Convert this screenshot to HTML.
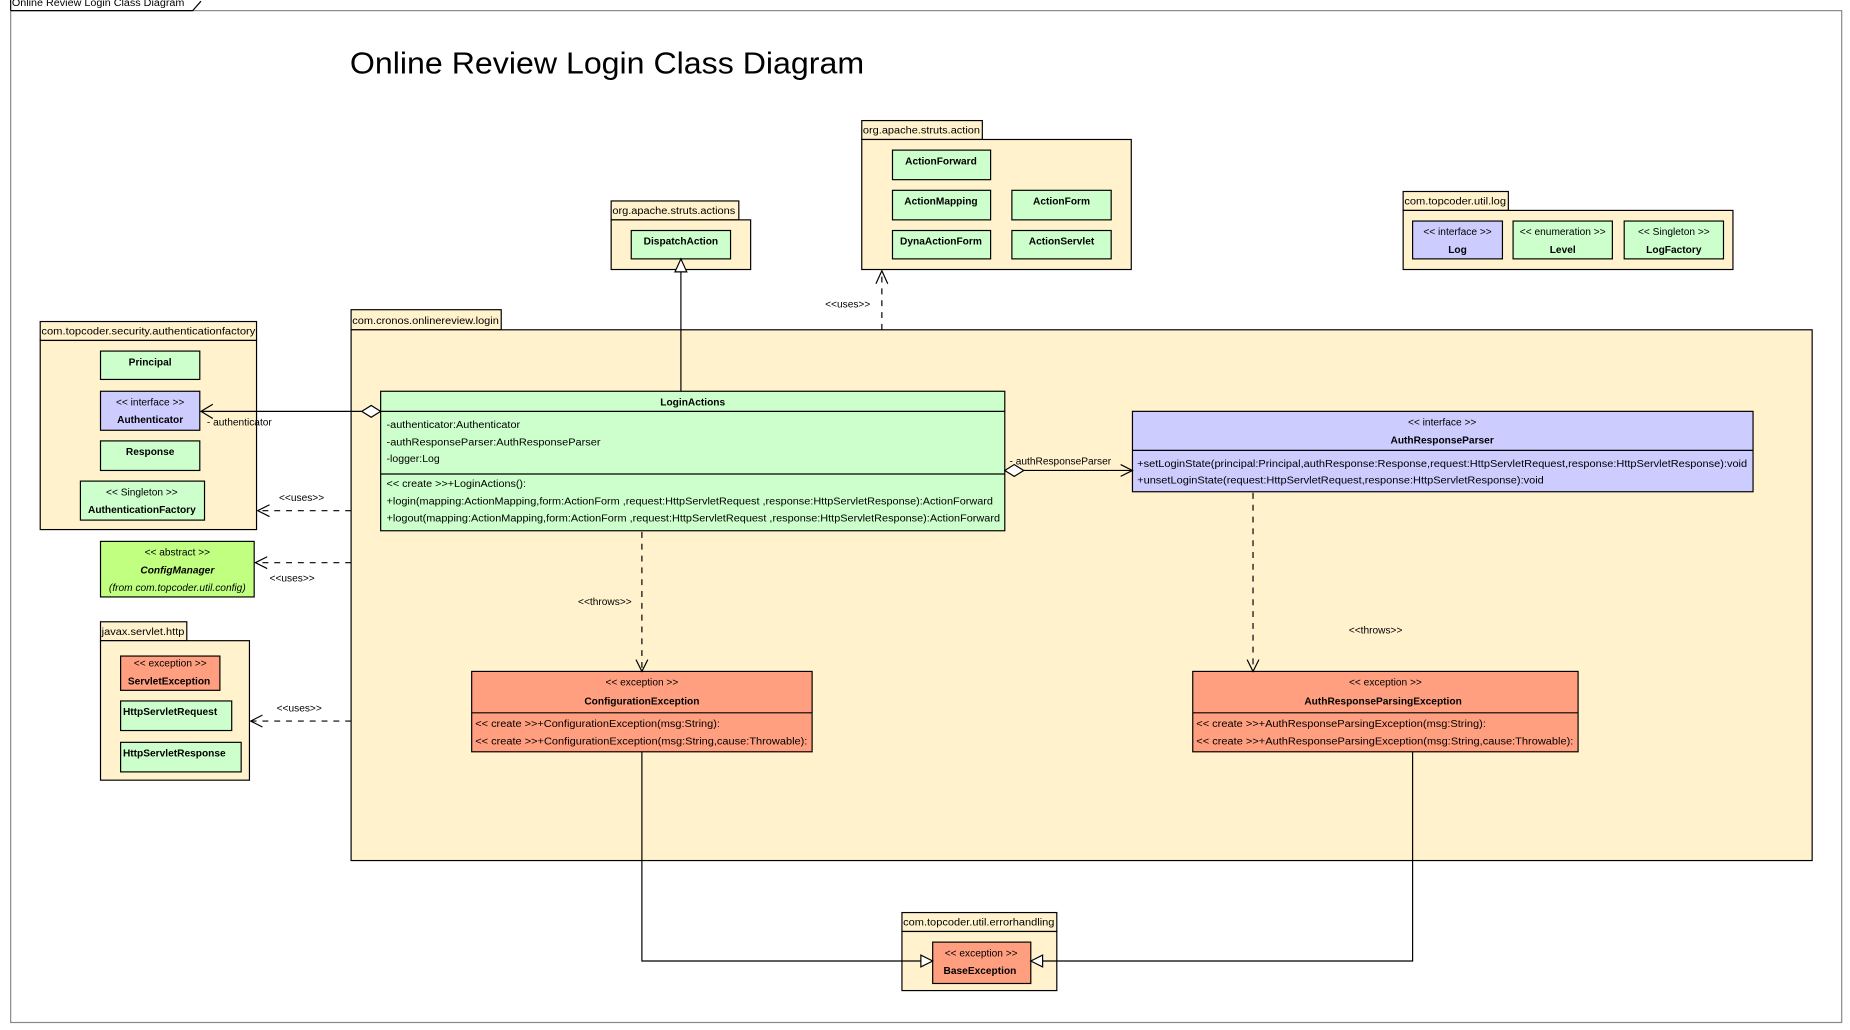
<!DOCTYPE html>
<html><head><meta charset="utf-8"><style>
html,body{margin:0;padding:0;background:#fff;}
svg{display:block;}
text{font-family:"Liberation Sans",Arial,sans-serif;font-size:8.6px;fill:#000;}
.b{font-weight:bold;}
.c{text-anchor:middle;}
.pk{fill:#fff2cc;stroke:#000;stroke-width:1;}
.g{fill:#ccffcc;stroke:#000;stroke-width:1;}
.bl{fill:#ccccff;stroke:#000;stroke-width:1;}
.s{fill:#ff9f80;stroke:#000;stroke-width:1;}
.ln{stroke:#000;stroke-width:1;fill:none;}
.d{stroke:#000;stroke-width:1;fill:none;stroke-dasharray:5,5;}
</style></head><body>
<svg width="1850" height="1030" viewBox="0 0 1565 871.35" xmlns="http://www.w3.org/2000/svg">
<!-- frame -->
<rect x="9" y="9" width="1549" height="856" fill="none" stroke="#888" stroke-width="1"/>
<path d="M9 9 L9 0 M9 9 L163 9 L170 1" class="ln"/>
<text x="10" y="5" textLength="146" lengthAdjust="spacingAndGlyphs">Online Review Login Class Diagram</text>
<text x="296" y="62" style="font-size:26px" textLength="435" lengthAdjust="spacingAndGlyphs">Online Review Login Class Diagram</text>

<!-- org.apache.struts.actions -->
<rect class="pk" x="517" y="170" width="108" height="16"/>
<text x="518" y="181" textLength="104" lengthAdjust="spacingAndGlyphs">org.apache.struts.actions</text>
<rect class="pk" x="517" y="186" width="118" height="42"/>
<rect class="g" x="534" y="195" width="84" height="24"/>
<text class="b c" x="576" y="207">DispatchAction</text>

<!-- org.apache.struts.action -->
<rect class="pk" x="729" y="102" width="102" height="16"/>
<text x="730" y="113" textLength="99" lengthAdjust="spacingAndGlyphs">org.apache.struts.action</text>
<rect class="pk" x="729" y="118" width="228" height="110"/>
<rect class="g" x="755" y="127" width="83" height="25"/><text class="b c" x="796" y="139">ActionForward</text>
<rect class="g" x="755" y="161" width="83" height="25"/><text class="b c" x="796" y="173">ActionMapping</text>
<rect class="g" x="856" y="161" width="84" height="25"/><text class="b c" x="898" y="173">ActionForm</text>
<rect class="g" x="755" y="195" width="83" height="24"/><text class="b c" x="796" y="207">DynaActionForm</text>
<rect class="g" x="856" y="195" width="84" height="24"/><text class="b c" x="898" y="207">ActionServlet</text>

<!-- com.topcoder.util.log -->
<rect class="pk" x="1187" y="162" width="89" height="16"/>
<text x="1188" y="173" textLength="86" lengthAdjust="spacingAndGlyphs">com.topcoder.util.log</text>
<rect class="pk" x="1187" y="178" width="279" height="50"/>
<rect class="bl" x="1195" y="187" width="76" height="32"/><text class="c" x="1233" y="199">&lt;&lt; interface &gt;&gt;</text><text class="b c" x="1233" y="214">Log</text>
<rect class="g" x="1280" y="187" width="84" height="32"/><text class="c" x="1322" y="199">&lt;&lt; enumeration &gt;&gt;</text><text class="b c" x="1322" y="214">Level</text>
<rect class="g" x="1374" y="187" width="84" height="32"/><text class="c" x="1416" y="199">&lt;&lt; Singleton &gt;&gt;</text><text class="b c" x="1416" y="214">LogFactory</text>

<!-- authentication factory -->
<rect class="pk" x="34" y="272" width="183" height="16"/>
<text x="35" y="283" textLength="181" lengthAdjust="spacingAndGlyphs">com.topcoder.security.authenticationfactory</text>
<rect class="pk" x="34" y="288" width="183" height="160"/>
<rect class="g" x="85" y="297" width="84" height="24"/><text class="b c" x="127" y="309">Principal</text>
<rect class="bl" x="85" y="331" width="84" height="33"/><text class="c" x="127" y="343">&lt;&lt; interface &gt;&gt;</text><text class="b c" x="127" y="358">Authenticator</text>
<rect class="g" x="85" y="373" width="84" height="25"/><text class="b c" x="127" y="385">Response</text>
<rect class="g" x="68" y="407" width="105" height="33"/><text class="c" x="120" y="419">&lt;&lt; Singleton &gt;&gt;</text><text class="b c" x="120" y="434">AuthenticationFactory</text>

<!-- ConfigManager -->
<rect x="85" y="458" width="130" height="47" fill="#c0ff80" stroke="#000"/>
<text class="c" x="150" y="470">&lt;&lt; abstract &gt;&gt;</text>
<text class="b c" x="150" y="485" font-style="italic">ConfigManager</text>
<text class="c" x="150" y="500" font-style="italic">(from com.topcoder.util.config)</text>

<!-- javax.servlet.http -->
<rect class="pk" x="85" y="526" width="73" height="16"/>
<text x="86" y="537" textLength="70" lengthAdjust="spacingAndGlyphs">javax.servlet.http</text>
<rect class="pk" x="85" y="542" width="126" height="118"/>
<rect class="s" x="102" y="555" width="84" height="29"/><text class="c" x="144" y="564">&lt;&lt; exception &gt;&gt;</text><text class="b c" x="143" y="579">ServletException</text>
<rect class="g" x="102" y="593" width="94" height="25"/><text class="b" x="104" y="605">HttpServletRequest</text>
<rect class="g" x="102" y="628" width="102" height="25"/><text class="b" x="104" y="640">HttpServletResponse</text>

<!-- login package -->
<rect class="pk" x="297" y="262" width="127" height="17"/>
<text x="298" y="274" textLength="124" lengthAdjust="spacingAndGlyphs">com.cronos.onlinereview.login</text>
<rect class="pk" x="297" y="279" width="1236" height="449"/>

<!-- LoginActions -->
<rect class="g" x="322" y="331" width="528" height="118"/>
<line class="ln" x1="322" y1="348" x2="850" y2="348"/>
<line class="ln" x1="322" y1="401" x2="850" y2="401"/>
<text class="b c" x="586" y="343">LoginActions</text>
<text x="327" y="362" textLength="113" lengthAdjust="spacingAndGlyphs">-authenticator:Authenticator</text>
<text x="327" y="377" textLength="181" lengthAdjust="spacingAndGlyphs">-authResponseParser:AuthResponseParser</text>
<text x="327" y="391" textLength="45" lengthAdjust="spacingAndGlyphs">-logger:Log</text>
<text x="327" y="412" textLength="118" lengthAdjust="spacingAndGlyphs">&lt;&lt; create &gt;&gt;+LoginActions():</text>
<text x="327" y="427" textLength="513" lengthAdjust="spacingAndGlyphs">+login(mapping:ActionMapping,form:ActionForm ,request:HttpServletRequest ,response:HttpServletResponse):ActionForward</text>
<text x="327" y="441" textLength="519" lengthAdjust="spacingAndGlyphs">+logout(mapping:ActionMapping,form:ActionForm ,request:HttpServletRequest ,response:HttpServletResponse):ActionForward</text>

<!-- AuthResponseParser -->
<rect class="bl" x="958" y="348" width="525" height="68"/>
<line class="ln" x1="958" y1="381" x2="1483" y2="381"/>
<text class="c" x="1220" y="360">&lt;&lt; interface &gt;&gt;</text>
<text class="b c" x="1220" y="375">AuthResponseParser</text>
<text x="962" y="395" textLength="516" lengthAdjust="spacingAndGlyphs">+setLoginState(principal:Principal,authResponse:Response,request:HttpServletRequest,response:HttpServletResponse):void</text>
<text x="962" y="409" textLength="344" lengthAdjust="spacingAndGlyphs">+unsetLoginState(request:HttpServletRequest,response:HttpServletResponse):void</text>

<!-- ConfigurationException -->
<rect class="s" x="399" y="568" width="288" height="68"/>
<line class="ln" x1="399" y1="603" x2="687" y2="603"/>
<text class="c" x="543" y="580">&lt;&lt; exception &gt;&gt;</text>
<text class="b c" x="543" y="596">ConfigurationException</text>
<text x="402" y="615" textLength="207" lengthAdjust="spacingAndGlyphs">&lt;&lt; create &gt;&gt;+ConfigurationException(msg:String):</text>
<text x="402" y="630" textLength="281" lengthAdjust="spacingAndGlyphs">&lt;&lt; create &gt;&gt;+ConfigurationException(msg:String,cause:Throwable):</text>

<!-- AuthResponseParsingException -->
<rect class="s" x="1009" y="568" width="326" height="68"/>
<line class="ln" x1="1009" y1="603" x2="1335" y2="603"/>
<text class="c" x="1172" y="580">&lt;&lt; exception &gt;&gt;</text>
<text class="b c" x="1170" y="596">AuthResponseParsingException</text>
<text x="1012" y="615" textLength="245" lengthAdjust="spacingAndGlyphs">&lt;&lt; create &gt;&gt;+AuthResponseParsingException(msg:String):</text>
<text x="1012" y="630" textLength="319" lengthAdjust="spacingAndGlyphs">&lt;&lt; create &gt;&gt;+AuthResponseParsingException(msg:String,cause:Throwable):</text>

<!-- errorhandling -->
<rect class="pk" x="763" y="772" width="131" height="16"/>
<text x="764" y="783" textLength="128" lengthAdjust="spacingAndGlyphs">com.topcoder.util.errorhandling</text>
<rect class="pk" x="763" y="788" width="131" height="50"/>
<rect class="s" x="789" y="797" width="83" height="35"/>
<text class="c" x="830" y="809">&lt;&lt; exception &gt;&gt;</text>
<text class="b c" x="829" y="824">BaseException</text>

<!-- connectors -->
<line class="ln" x1="576" y1="331" x2="576" y2="229"/>
<polygon points="576,219 571,230 581,230" fill="#fff" stroke="#000"/>

<line class="d" x1="746" y1="279" x2="746" y2="230"/>
<path class="ln" d="M741 240 L746 229 L751 240"/>
<text x="698" y="260">&lt;&lt;uses&gt;&gt;</text>

<line class="ln" x1="170" y1="348" x2="306" y2="348"/>
<polygon points="306,348 314,343 322,348 314,353" fill="#fff" stroke="#000"/>
<path class="ln" d="M180 342 L170 348 L180 354"/>
<text x="175" y="360">- authenticator</text>

<line class="d" x1="297" y1="432" x2="219" y2="432"/>
<path class="ln" d="M228 427 L218 432 L228 437"/>
<text x="236" y="424">&lt;&lt;uses&gt;&gt;</text>

<line class="d" x1="297" y1="476" x2="217" y2="476"/>
<path class="ln" d="M226 471 L216 476 L226 481"/>
<text x="228" y="492">&lt;&lt;uses&gt;&gt;</text>

<line class="d" x1="297" y1="610" x2="213" y2="610"/>
<path class="ln" d="M222 605 L212 610 L222 615"/>
<text x="234" y="602">&lt;&lt;uses&gt;&gt;</text>

<line class="ln" x1="866" y1="398" x2="957" y2="398"/>
<polygon points="850,398 858,393 866,398 858,403" fill="#fff" stroke="#000"/>
<path class="ln" d="M948 393 L958 398 L948 403"/>
<text x="854" y="393">- authResponseParser</text>

<line class="d" x1="543" y1="450" x2="543" y2="566"/>
<path class="ln" d="M538 558 L543 568 L548 558"/>
<text x="489" y="512">&lt;&lt;throws&gt;&gt;</text>

<line class="d" x1="1060" y1="417" x2="1060" y2="566"/>
<path class="ln" d="M1055 558 L1060 568 L1065 558"/>
<text x="1141" y="536">&lt;&lt;throws&gt;&gt;</text>

<path class="ln" d="M543 636 L543 813 L779 813"/>
<polygon points="789,813 779,808 779,818" fill="#fff" stroke="#000"/>
<path class="ln" d="M1195 636 L1195 813 L882 813"/>
<polygon points="872,813 882,808 882,818" fill="#fff" stroke="#000"/>
</svg>
</body></html>
